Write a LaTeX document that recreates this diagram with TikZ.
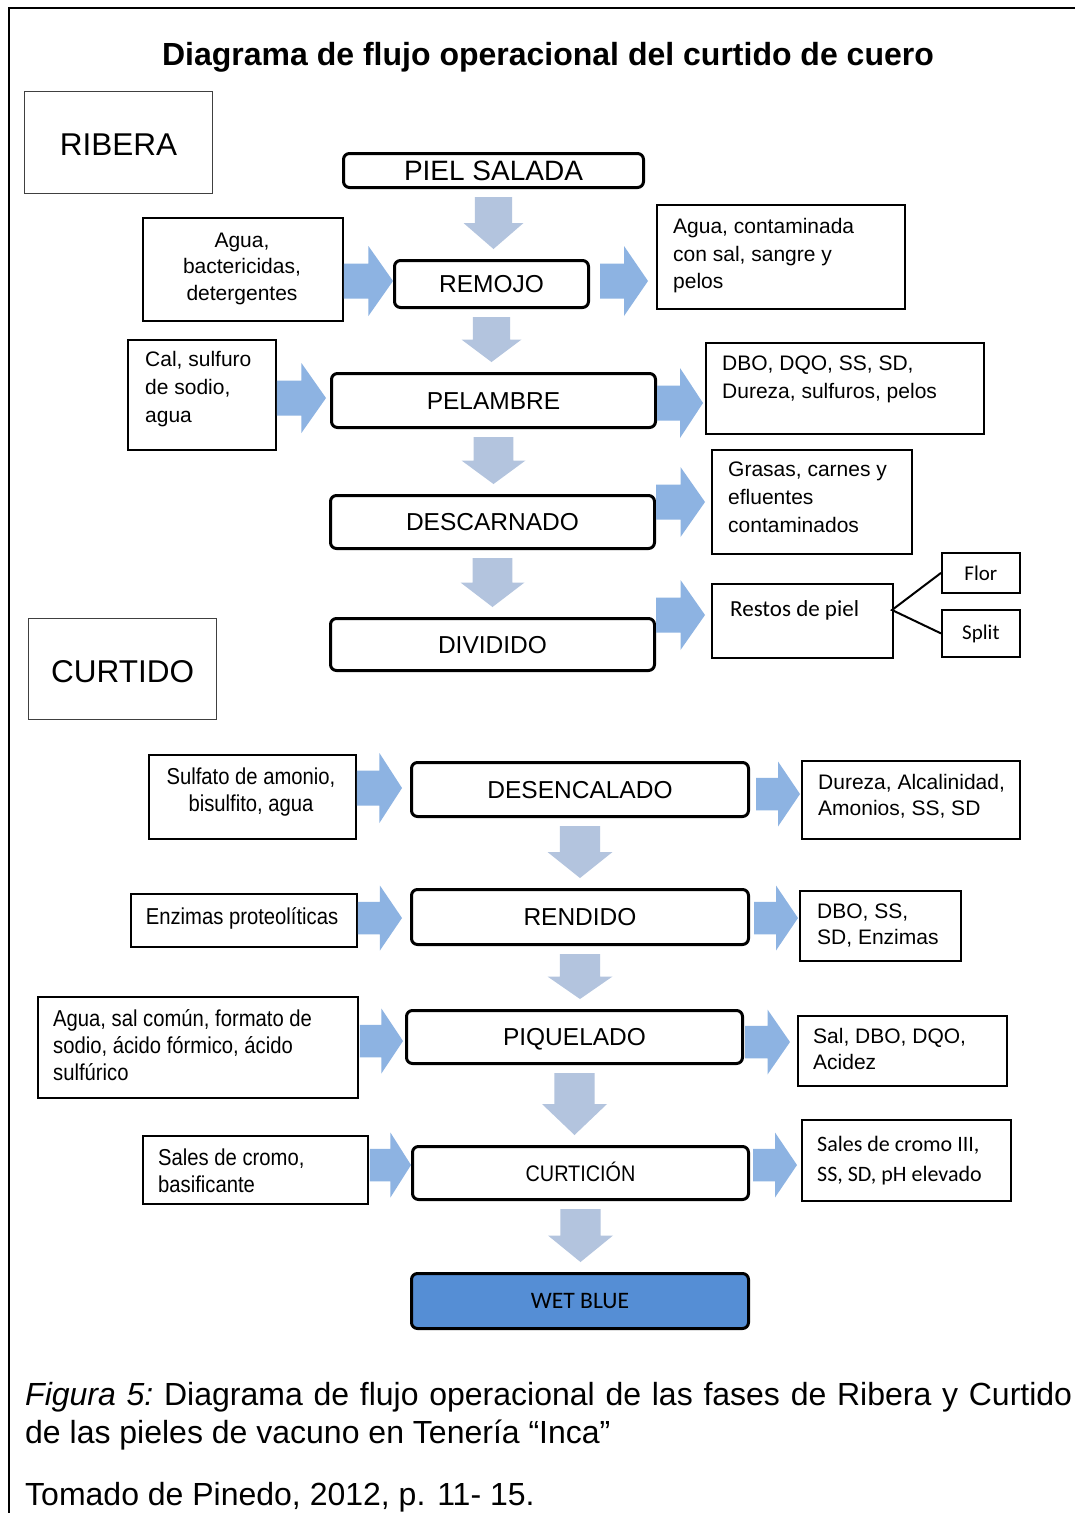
\documentclass[tikz,border=0pt]{standalone}
\usepackage{fontspec}
\setmainfont{Liberation Sans}
\newfontfamily\narrowf[FakeStretch=0.88]{Liberation Sans}
\newfontfamily\calib{Carlito}
\usetikzlibrary{calc}
\definecolor{dcol}{RGB}{179,196,222}
\definecolor{rcol}{RGB}{141,179,226}
\definecolor{wetcol}{RGB}{85,142,213}
\newcommand\B[6]{\node[#1, minimum width={#5-#3}, minimum height={#6-#4}] (#2) at (#3,#4)}
\newcommand\RA[6]{%
  \coordinate (ry) at (0,#3);
  \path ($(#1.east |- ry)+(#5,0)$) coordinate (ra1)
        ($(#2.west |- ry)+(-#6,0)$) coordinate (ra2);
  \path ($(ra1)!0.5!(ra2)$) coordinate (ram);
  \fill[rcol] ($(ra1)+(0,-0.25*#4)$) -- ($(ram)+(0,-0.25*#4)$) -- ($(ram)+(0,-0.5*#4)$)
     -- (ra2) -- ($(ram)+(0,0.5*#4)$) -- ($(ram)+(0,0.25*#4)$) -- ($(ra1)+(0,0.25*#4)$) -- cycle;}
\newcommand\DA[3]{%
  \path ($(#1.south)+(0,8)$) coordinate (da1)
        ($(#2.north -| #1.south)+(0,-10)$) coordinate (da2);
  \path ($(da1)!0.5!(da2)$) coordinate (dam);
  \fill[dcol] ($(da1)+(-0.31*#3,0)$) -- ($(dam)+(-0.31*#3,0)$) -- ($(dam)+(-0.5*#3,0)$)
     -- (da2) -- ($(dam)+(0.5*#3,0)$) -- ($(dam)+(0.31*#3,0)$) -- ($(da1)+(0.31*#3,0)$) -- cycle;}
\begin{document}
\begin{tikzpicture}[x=1pt,y=-1pt,
  proc/.style={draw, line width=3pt, rounded corners=6pt, inner sep=0pt, anchor=north west,
     font=\fontsize{24.5}{28}\selectfont, text height=17.5pt, text depth=0pt},
  ibox/.style={draw, line width=1.8pt, inner sep=0pt, anchor=north west},
  phase/.style={draw=black!75, line width=1.2pt, inner sep=0pt, anchor=north west,
     font=\fontsize{31.5}{36}\selectfont, text height=26pt, text depth=0pt},
  txt/.style={inner sep=0pt, align=left, anchor=north west},
  f21/.style={font=\fontsize{21}{#1}\selectfont},
  n23/.style={font=\narrowf\fontsize{23}{#1}\selectfont},
  captxt/.style={inner sep=0pt, anchor=base west, font=\fontsize{32}{36}\selectfont},
]
\useasboundingbox (0,0) rectangle (1075,1513);
\fill[white] (0,0) rectangle (1075,1513);
\coordinate (fr1) at (9,1513);
\coordinate (fr2) at (9,8);
\coordinate (fr3) at (1075,8);
\draw[line width=2pt] (fr1) -- (fr2) -- (fr3);

\node[font=\bfseries\fontsize{32}{36}\selectfont, anchor=base, inner sep=0pt] (title) at (548,65)
  {Diagrama de flujo operacional del curtido de cuero};

% phase labels
\B{phase}{ribera}{24}{91}{212}{193} {RIBERA};
\B{phase}{curtido}{28}{618}{216}{719} {CURTIDO};

% process boxes
\B{proc,font=\fontsize{28}{32}\selectfont,text height=20pt}{piel}{342}{152}{642}{186} {PIEL SALADA};
\B{proc}{remojo}{393}{259}{587}{306} {REMOJO};
\B{proc}{pelambre}{330}{372}{654}{426} {PELAMBRE};
\B{proc}{descarnado}{329}{494}{653}{547} {DESCARNADO};
\B{proc}{dividido}{329}{617}{653}{669} {DIVIDIDO};
\B{proc}{desencalado}{410}{761}{747}{815} {DESENCALADO};
\B{proc}{rendido}{410}{888}{747}{943} {RENDIDO};
\B{proc}{piquelado}{405}{1009}{741}{1062} {PIQUELADO};
\B{proc,font=\narrowf\fontsize{22.5}{26}\selectfont,text height=16pt}{curticion}{411}{1145}{747}{1198} {CURTICIÓN};
\B{proc,fill=wetcol,font=\calib\fontsize{23.6}{26}\selectfont,text height=15.2pt}{wetblue}{410}{1272}{747}{1327} {WET BLUE};

% input boxes
\B{ibox}{agua1}{142}{217}{342}{320} {};
\B{ibox}{cal}{127}{339}{275}{449} {};
\B{ibox}{sulfato}{148}{754}{355}{838} {};
\B{ibox}{enzimas}{130}{893}{356}{946} {};
\B{ibox}{aguasal}{37}{996}{357}{1097} {};
\B{ibox}{salescromo}{142}{1135}{367}{1203} {};

% output boxes
\B{ibox}{aguacont}{656}{204}{904}{308} {};
\B{ibox}{dbo1}{705}{342}{983}{433} {};
\B{ibox}{grasas}{711}{449}{911}{553} {};
\B{ibox}{restos}{711}{583}{892}{657} {};
\B{ibox,font=\calib\fontsize{21}{24}\selectfont}{flor}{941}{552}{1019}{592} {Flor};
\B{ibox,font=\calib\fontsize{21}{24}\selectfont}{split}{941}{609}{1019}{656} {Split};
\B{ibox}{dureza}{801}{760}{1019}{838} {};
\B{ibox}{dbo2}{799}{890}{960}{960} {};
\B{ibox}{sal}{797}{1015}{1006}{1085} {};
\B{ibox}{salescromo3}{801}{1119}{1010}{1200} {};

% texts
\node[txt,f21=26.5,align=center,anchor=north] (agua1t) at (242,232.5) {Agua,\\bactericidas,\\detergentes};
\node[txt,f21=28] (calt) at (145,351.5) {Cal, sulfuro\\de sodio,\\agua};
\node[txt,f21=27.5] (aguacontt) at (673,218.5) {Agua, contaminada\\con sal, sangre y\\pelos};
\node[txt,f21=28] (dbo1t) at (722,355.5) {DBO, DQO, SS, SD,\\Dureza, sulfuros, pelos};
\node[txt,f21=28] (grasast) at (728,461.5) {Grasas, carnes y\\efluentes\\contaminados};
\node[txt,font=\calib\fontsize{23}{27}\selectfont] (restost) at (730,600.6) {Restos de piel};
\node[txt,n23=27,align=center,anchor=north] (sulfatot) at (251,768) {Sulfato de amonio,\\bisulfito, agua};
\node[txt,n23=27,align=center,anchor=north] (enzimast) at (242,907) {Enzimas proteolíticas};
\node[txt,n23=27] (aguasalt) at (53,1009) {Agua, sal común, formato de\\sodio, ácido fórmico, ácido\\sulfúrico};
\node[txt,n23=27] (salescromot) at (158,1149) {Sales de cromo,\\basificante};
\node[txt,f21=26] (durezat) at (818,774.5) {Dureza, Alcalinidad,\\Amonios, SS, SD};
\node[txt,f21=26] (dbo2t) at (817,903.5) {DBO, SS,\\SD, Enzimas};
\node[txt,f21=26] (salt) at (813,1028.5) {Sal, DBO, DQO,\\Acidez};
\node[txt,font=\calib\fontsize{22}{30}\selectfont] (salescromo3t) at (817,1136) {Sales de cromo III,\\SS, SD, pH elevado};

% branch lines
\coordinate (jn) at (892,610);
\draw[line width=2pt] (flor.west) -- (jn) -- (split.west);

% right arrows
\RA{agua1}{remojo}{281}{70}{0}{0}
\RA{remojo}{aguacont}{281}{70}{10}{8}
\RA{cal}{pelambre}{398}{70}{0}{4}
\RA{pelambre}{dbo1}{403}{70}{0}{2}
\RA{descarnado}{grasas}{502}{70}{0}{6}
\RA{dividido}{restos}{615}{70}{0}{6}
\RA{sulfato}{desencalado}{788}{70}{0}{8}
\RA{desencalado}{dureza}{794}{65}{6}{1}
\RA{enzimas}{rendido}{918}{65}{0}{8}
\RA{rendido}{dbo2}{918}{65}{4}{1}
\RA{aguasal}{piquelado}{1041}{65}{1}{2}
\RA{piquelado}{sal}{1042}{65}{1}{7}
\RA{salescromo}{curticion}{1165}{65}{1}{0}
\RA{curticion}{salescromo3}{1165}{65}{3}{4}

% down arrows
\DA{piel}{remojo}{60}
\DA{remojo}{pelambre}{60}
\DA{pelambre}{descarnado}{64}
\DA{descarnado}{dividido}{64}
\DA{desencalado}{rendido}{65}
\DA{rendido}{piquelado}{65}
\DA{piquelado}{curticion}{65}
\DA{curticion}{wetblue}{65}

% caption
\node[captxt] (cap1) at (25,1405)
  {\makebox[1047pt][s]{\textit{Figura 5:}\ Diagrama de flujo operacional de las fases de Ribera y Curtido}};
\node[captxt] (cap2) at (25,1443)
  {de las pieles de vacuno en Tenería “Inca”};
\node[captxt] (cap3) at (25,1505)
  {Tomado de Pinedo, 2012, p. 11- 15.};
\end{tikzpicture}
\end{document}
